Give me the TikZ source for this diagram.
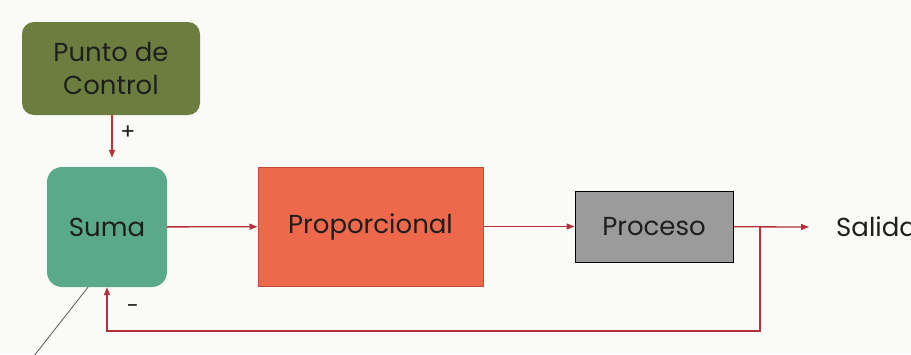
\documentclass[tikz,border=0pt]{standalone}
\usepackage{fontspec}
\setmainfont{Poppins}
\usetikzlibrary{arrows.meta}

\definecolor{Fondo}{HTML}{FAFBF6}
\definecolor{Olivo}{HTML}{6C7E3F}
\definecolor{Verde}{HTML}{5BA98B}
\definecolor{Coral}{HTML}{EE694B}
\definecolor{CoralBorde}{HTML}{C9473B}
\definecolor{Gris}{HTML}{9B9B9B}
\definecolor{Flecha}{HTML}{B3303C}
\definecolor{Texto}{HTML}{1E1E1E}

\tikzset{
  bloque/.style={inner sep=0pt, text=Texto, align=center,
    font=\fontsize{26}{32}\selectfont},
  flecha/.style={-{Triangle[length=8pt,width=6pt]}, line width=1.3pt, color=Flecha},
  signo/.style={text=Texto, font=\fontsize{22}{26}\selectfont}
}

\begin{document}
\begin{tikzpicture}[x=1pt, y=-1pt]

 %%%%%%%%%% Fondo %%%%%%%%%%
 \fill [Fondo] (0,0) rectangle (911,354);
 \useasboundingbox (0,0) rectangle (911,354);

 %%%%%%%%%% Bloques %%%%%%%%%%
 \node [bloque, fill=Olivo, rounded corners=12pt, minimum width=178pt, minimum height=93pt]
   (punto) at (111,68.5) {Punto de\\[1pt]Control};
 \node [bloque, fill=Verde, rounded corners=15pt, minimum width=120pt, minimum height=120pt]
   (suma) at (107,227) {Suma};
 \node [bloque, fill=Coral, draw=CoralBorde, line width=1pt, minimum width=225pt, minimum height=119pt]
   (prop) at (370.5,226.5) {Proporcional};
 \node [bloque, fill=Gris, draw=black, line width=1pt, minimum width=158pt, minimum height=71pt]
   (proc) at (654,226.5) {Proceso};
 \node [bloque, anchor=west] (salida) at (836,227) {Salida};

 %%%%%%%%%% Puntos de la rama %%%%%%%%%%
 \coordinate (rama) at (760,227);
 \coordinate (abajo) at (760,331);
 \coordinate (trazo) at (30,361);

 %%%%%%%%%% Flechas %%%%%%%%%%
 \draw [flecha, shorten >=9pt] (punto.south -| 112,0) -- (suma.north -| 112,0) ;
 \draw [flecha] (suma) -- (prop) ;
 \draw [flecha] (prop) -- (proc) ;
 \draw [flecha] (proc) -- ([xshift=-27pt]salida.west) ;
 \draw [flecha] (rama) -- (abajo) -| (suma.south) ;

 % Signos
 \node [signo] (mas) at (128,133) {+};
 \node [signo] (menos) at (133,309) {-};

 % Trazo suelto
 \draw [line width=0.8pt, color=black!65] ([xshift=-19pt]suma.south) -- (trazo) ;

\end{tikzpicture}
\end{document}
